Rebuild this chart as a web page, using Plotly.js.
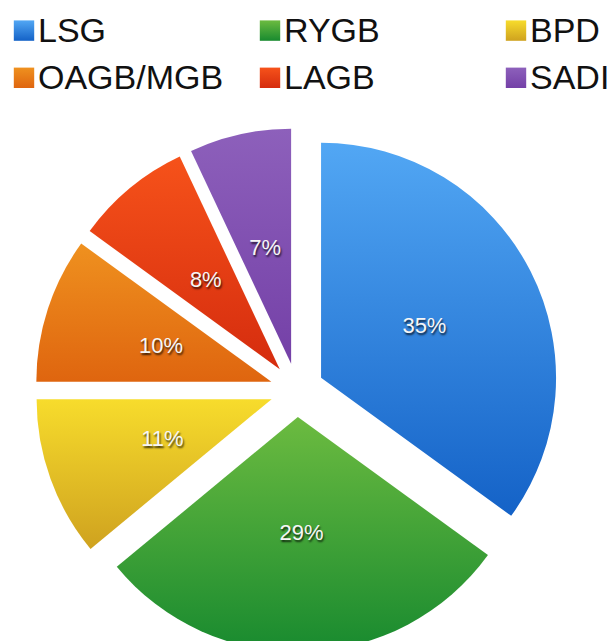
<!DOCTYPE html>
<html>
<head>
<meta charset="utf-8">
<script src="https://cdn.plot.ly/plotly-3.0.1.min.js"></script>
<style>
  html, body { margin: 0; padding: 0; overflow: hidden; background: #ffffff; }
  #chart { width: 820px; height: 700px; }
</style>
</head>
<body>
<div id="chart"></div>
<script>
// ---- data ----
const labels = ['LSG', 'RYGB', 'BPD', 'OAGB/MGB', 'LAGB', 'SADI'];
const shares = [35, 29, 11, 10, 8, 7];
const colors = ['#3a8ce2', '#47a23a', '#e6c226', '#e77b17', '#e83f13', '#8150b1'];
const gradTop = ['#52a7f4', '#6cbb40', '#f7dc2c', '#ef911f', '#f6521a', '#8d60bb'];
const gradBottom = ['#1462c7', '#188a2f', '#cfa21f', '#df650f', '#d52c0e', '#7440a7'];

// ---- layout geometry (pixels) ----
const W = 820, H = 700;        // drawing area (window shows the top-left 613x641)
const CX = 297, CY = 390;      // pie centre
const R = 235;                 // pie radius
const PULL_PX = 27;            // explode distance
const LABEL_R = 116;           // label distance from slice apex

function domainFor(r, pullFrac) {
  const half = r * (1 + pullFrac);
  return {
    x: [(CX - half) / W, (CX + half) / W],
    y: [1 - (CY + half) / H, 1 - (CY - half) / H]
  };
}

const mainPull = PULL_PX / R;
// label carrier: transparent ring whose inside-text radius sits at LABEL_R
const HOLE = 0.6;
const rLab = LABEL_R / ((1 + HOLE) / 2);
const labPull = PULL_PX / rLab;

const pieMain = {
  type: 'pie',
  labels: labels,
  values: shares,
  sort: false,
  direction: 'clockwise',
  rotation: 0,
  pull: mainPull,
  marker: { colors: colors, line: { width: 0 } },
  textinfo: 'none',
  hoverinfo: 'none',
  domain: domainFor(R, mainPull),
  showlegend: true
};

const pieLabels = {
  type: 'pie',
  labels: labels,
  values: shares,
  sort: false,
  direction: 'clockwise',
  rotation: 0,
  hole: HOLE,
  pull: labPull,
  marker: { colors: labels.map(() => 'rgba(0,0,0,0)'), line: { width: 0 } },
  texttemplate: '%{percent:.0%}',
  textposition: 'inside',
  insidetextorientation: 'horizontal',
  textfont: { family: 'Liberation Sans, Arial, sans-serif', size: 22, color: '#f6f6f6',
              shadow: '1px 2px 2px rgba(0,0,0,0.75)' },
  hoverinfo: 'none',
  domain: domainFor(rLab, labPull),
  showlegend: false
};

const layout = {
  width: W,
  height: H,
  margin: { l: 0, r: 0, t: 0, b: 0 },
  paper_bgcolor: '#ffffff',
  showlegend: true,
  legend: {
    orientation: 'h',
    x: 0, xanchor: 'left',
    y: 1.0, yanchor: 'top',
    indentation: -2,
    entrywidth: 203,
    entrywidthmode: 'pixels',
    font: { family: 'Liberation Sans, Arial, sans-serif', size: 34, color: '#111111' },
    traceorder: 'normal',
    bgcolor: 'rgba(0,0,0,0)'
  }
};

const gd = document.getElementById('chart');
Plotly.newPlot(gd, [pieMain, pieLabels], layout, { staticPlot: true, displayModeBar: false }).then(() => {
  // vertical gradients like the original slices
  const svg = gd.querySelector('svg.main-svg');
  let defs = svg.querySelector('defs');
  const NS = 'http://www.w3.org/2000/svg';
  labels.forEach((lab, i) => {
    const g = document.createElementNS(NS, 'linearGradient');
    g.setAttribute('id', 'sliceGrad' + i);
    g.setAttribute('x1', '0'); g.setAttribute('y1', '0');
    g.setAttribute('x2', '0'); g.setAttribute('y2', '1');
    const s1 = document.createElementNS(NS, 'stop');
    s1.setAttribute('offset', '0'); s1.setAttribute('stop-color', gradTop[i]);
    const s2 = document.createElementNS(NS, 'stop');
    s2.setAttribute('offset', '1'); s2.setAttribute('stop-color', gradBottom[i]);
    g.appendChild(s1); g.appendChild(s2);
    defs.appendChild(g);
  });
  const firstTrace = gd.querySelector('.pielayer .trace');
  firstTrace.querySelectorAll('g.slice').forEach((sl, i) => {
    const p = sl.querySelector('path.surface');
    if (p) p.style.fill = 'url(#sliceGrad' + i + ')';
  });
  gd.querySelectorAll('.legend .traces').forEach((tr, i) => {
    const p = tr.querySelector('path.legendpie');
    if (p) {
      p.setAttribute('transform', 'translate(26,2) scale(1.7)');
      p.style.fill = 'url(#sliceGrad' + i + ')';
      p.style.strokeWidth = '0';
    }
  });
});
</script>
</body>
</html>
